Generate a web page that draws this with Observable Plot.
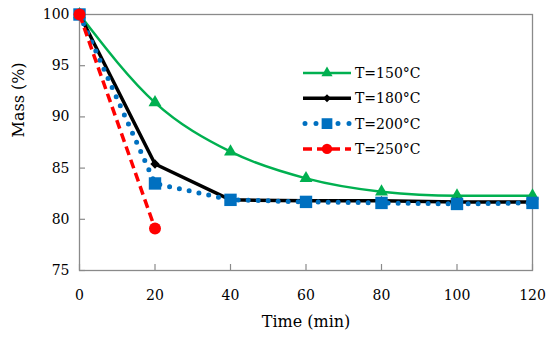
<!DOCTYPE html>
<html>
<head>
<meta charset="utf-8">
<script src="https://cdn.jsdelivr.net/npm/d3@7"></script>
<script src="https://cdn.jsdelivr.net/npm/@observablehq/plot@0.6"></script>
<style>
  html, body { margin: 0; padding: 0; background: #fff; }
  #chart { position: relative; width: 550px; height: 342px; }
</style>
</head>
<body>
<div id="chart"></div>
<script>
const times = [0, 20, 40, 60, 80, 100, 120];
const series = ["T=150°C", "T=180°C", "T=200°C", "T=250°C"];
const mass150 = [100, 91.4, 86.6, 84.0, 82.7, 82.3, 82.3];
const mass180 = [100, 85.4, 81.9, 81.8, 81.8, 81.7, 81.7];
const mass200 = [100, 83.5, 81.9, 81.7, 81.6, 81.5, 81.6];
const mass250 = [100, 79.1];
const xTicks = [0, 20, 40, 60, 80, 100, 120];
const yTicks = [75, 80, 85, 90, 95, 100];
const xLabel = "Time (min)";
const yLabel = "Mass (%)";

const FONT = "DejaVu Serif";

const toRows = (vals) => vals.map((m, i) => ({t: times[i], m}));
const d150 = toRows(mass150), d180 = toRows(mass180), d200 = toRows(mass200), d250 = toRows(mass250);

const styles = [
  {color: "#00b050", width: 2.5, dash: null, cap: "butt", symbol: "triangle", r: 4.8},
  {color: "#000000", width: 3.5, dash: null, cap: "butt", symbol: "diamond2", r: 4.2},
  {color: "#0070c0", width: 5, dash: "0 10", cap: "round", symbol: "square", r: 7},
  {color: "#ff0000", width: 3.5, dash: "9 5", cap: "butt", symbol: "circle", r: 6}
];
const datasets = [d150, d180, d200, d250];
const curves = ["monotone-x", "linear", "linear", "linear"];

const W = 550, H = 342, ML = 79, MR = 18, MT = 14, MB = 72;
const frameW = W - ML - MR, frameH = H - MT - MB;
const tickLen = 6;
const axisGray = "#8a8a8a";

const marks = [
  Plot.gridX({ticks: xTicks, stroke: axisGray, strokeOpacity: 1, strokeWidth: 1.2, insetTop: frameH - tickLen}),
  Plot.gridY({ticks: yTicks, stroke: axisGray, strokeOpacity: 1, strokeWidth: 1.2, insetRight: frameW - tickLen}),
  Plot.frame({stroke: axisGray, strokeWidth: 1.3})
];
datasets.forEach((d, i) => {
  const s = styles[i];
  marks.push(Plot.line(d, {x: "t", y: "m", stroke: s.color, strokeWidth: s.width,
    strokeDasharray: s.dash, strokeLinecap: s.cap, curve: curves[i]}));
  marks.push(Plot.dot(d, {x: "t", y: "m", symbol: () => s.symbol, fill: s.color, stroke: "none", r: s.r}));
});
marks.push(
  Plot.axisX({ticks: xTicks, tickSize: 0, tickPadding: 20, fill: "#000", label: null, fontSize: 14, tickFormat: d => String(d)}),
  Plot.axisY({ticks: yTicks, tickSize: 0, tickPadding: 10, fill: "#000", label: null, fontSize: 14, tickFormat: d => String(d)}),
  Plot.text([xLabel], {frameAnchor: "bottom", dy: 56, fontSize: 16, fill: "#000"}),
  Plot.text([yLabel], {frameAnchor: "left", dx: -61, dy: -5, rotate: -90, fontSize: 16, fill: "#000"})
);

const chart = Plot.plot({
  width: W,
  height: H,
  marginLeft: ML,
  marginRight: MR,
  marginTop: MT,
  marginBottom: MB,
  style: {fontFamily: FONT, fontSize: "14px", background: "#fff", color: "#000"},
  x: {domain: [0, 120]},
  y: {domain: [75, 100]},
  marks
});
document.getElementById("chart").appendChild(chart);

// legend
const svg = d3.select(chart);
const lg = svg.append("g").attr("transform", "translate(303,73)");
series.forEach((name, i) => {
  const s = styles[i];
  const g = lg.append("g").attr("transform", `translate(0,${i * 25.3})`);
  g.append("line").attr("x1", i === 2 ? 2 : 0).attr("x2", 48).attr("y1", 0).attr("y2", 0)
    .attr("stroke", s.color).attr("stroke-width", s.width)
    .attr("stroke-dasharray", i === 2 ? "0 11" : s.dash).attr("stroke-linecap", s.cap);
  const sym = {triangle: d3.symbolTriangle, diamond2: d3.symbolDiamond2, square: d3.symbolSquare, circle: d3.symbolCircle}[s.symbol];
  g.append("path").attr("transform", "translate(24,0)")
    .attr("d", d3.symbol(sym, Math.PI * s.r * s.r * 0.75)())
    .attr("fill", s.color);
  g.append("text").attr("x", 52).attr("y", 0).attr("dy", "0.35em")
    .attr("text-anchor", "start")
    .attr("font-size", 14).attr("fill", "#000").text(name);
});
svg.selectAll("text").style("font-family", FONT);
</script>
</body>
</html>
